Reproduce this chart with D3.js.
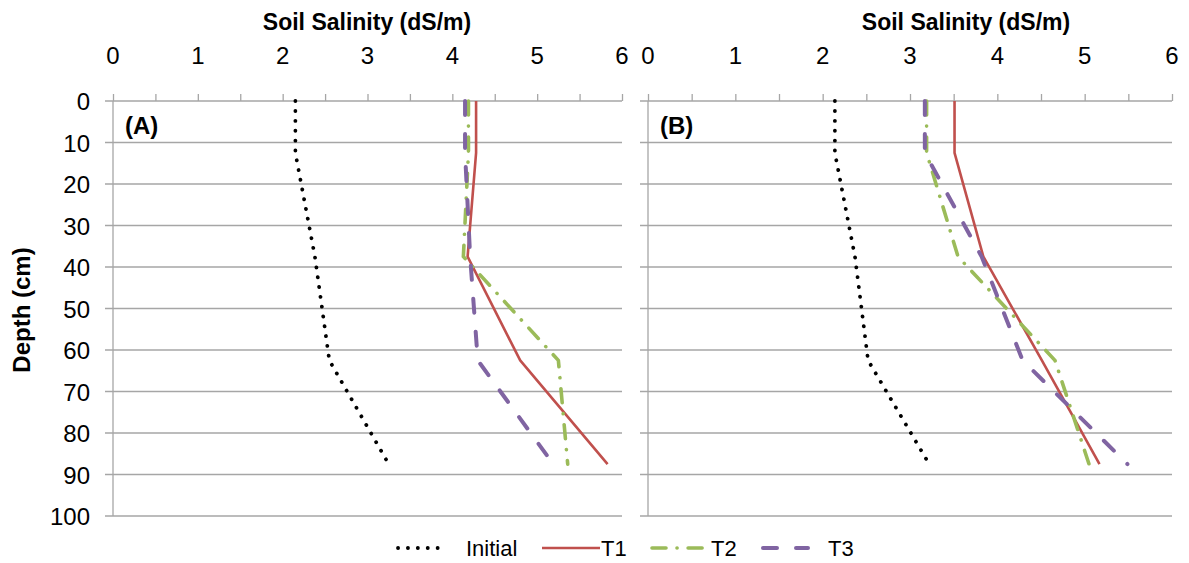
<!DOCTYPE html>
<html>
<head>
<meta charset="utf-8">
<script src="https://cdn.jsdelivr.net/npm/d3@7"></script>
<style>
  body { margin: 0; background: #fff; }
  svg { display: block; }
  text { font-family: "Liberation Sans Narrow", "Arial Narrow", "Liberation Sans", sans-serif; fill: #000; }
</style>
</head>
<body>
<svg id="chart" width="1189" height="563"></svg>
<script>
// depth of each sample (cm)
var depths = [0, 12.5, 37.5, 62.5, 87.5];

// panel A salinity (dS/m)
var initialA = [2.15, 2.15, 2.38, 2.55, 3.25];
var t1A = [4.28, 4.28, 4.18, 4.80, 5.83];
var t2A = [4.19, 4.19, 4.13, 5.25, 5.36];
var t3A = [4.15, 4.15, 4.21, 4.30, 5.19];

// panel B salinity (dS/m)
var initialB = [2.14, 2.14, 2.37, 2.52, 3.22];
var t1B = [3.51, 3.51, 3.84, 4.51, 5.17];
var t2B = [3.19, 3.19, 3.55, 4.66, 5.05];
var t3B = [3.17, 3.17, 3.82, 4.29, 5.49];

var seriesNames = ["Initial", "T1", "T2", "T3"];
var xTicks = [0, 1, 2, 3, 4, 5, 6];
var yTicks = [0, 10, 20, 30, 40, 50, 60, 70, 80, 90, 100];

var styles = {
  "Initial": {color: "#000", width: 3.8, dash: "0.1,9.8"},
  "T1": {color: "#c0504d", width: 2.6, dash: null},
  "T2": {color: "#9bbb59", width: 3.6, dash: "14,11,0.1,11"},
  "T3": {color: "#8064a2", width: 4, dash: "14,19"}
};

var svg = d3.select("#chart");
var gridColor = "#a6a6a6";

var yScale = d3.scaleLinear().domain([0, 100]).range([101, 516]);

function drawPanel(opts) {
  var x = d3.scaleLinear().domain([0, 6]).range([opts.x0, opts.x1]);
  var g = svg.append("g");

  // horizontal gridlines + left ticks
  g.selectAll(".grid")
    .data(yTicks.slice(1))
    .enter().append("line")
    .attr("x1", opts.x0 - 8).attr("x2", opts.x1)
    .attr("y1", function(d) { return yScale(d); })
    .attr("y2", function(d) { return yScale(d); })
    .attr("stroke", gridColor).attr("stroke-width", 1.3);

  // top axis with half-unit ticks
  var axisTop = d3.axisTop(x).tickValues(d3.range(0, 6.01, 0.5)).tickSize(7).tickFormat("");
  var ax = g.append("g").attr("transform", "translate(0," + yScale(0) + ")").call(axisTop);
  ax.select(".domain").attr("stroke", gridColor).attr("stroke-width", 1.3)
    .attr("d", "M" + (opts.x0 - 8) + ",0H" + opts.x1);
  ax.selectAll(".tick line").attr("stroke", gridColor).attr("stroke-width", 1.3);

  // top tick labels
  g.selectAll(".xlab")
    .data(xTicks)
    .enter().append("text")
    .attr("x", function(d) { return x(d); })
    .attr("y", 64)
    .attr("text-anchor", "middle")
    .style("font-size", "24px")
    .text(function(d) { return d; });

  // vertical axis
  g.append("line")
    .attr("x1", opts.x0).attr("x2", opts.x0)
    .attr("y1", yScale(0)).attr("y2", yScale(100))
    .attr("stroke", gridColor).attr("stroke-width", 1.3);

  if (opts.yLabels) {
    g.selectAll(".ylab")
      .data(yTicks)
      .enter().append("text")
      .attr("x", 90)
      .attr("y", function(d) { return yScale(d) + 9; })
      .attr("text-anchor", "end")
      .style("font-size", "24px")
      .text(function(d) { return d; });
  }

  // axis title
  g.append("text")
    .attr("x", opts.titleX).attr("y", 30)
    .attr("text-anchor", "middle")
    .style("font-size", "23px").style("font-weight", "bold")
    .text("Soil Salinity (dS/m)");

  // panel letter
  g.append("text")
    .attr("x", opts.x0 + 12).attr("y", 134)
    .style("font-size", "24px").style("font-weight", "bold")
    .text(opts.letter);

  var line = d3.line()
    .x(function(d) { return x(d[0]); })
    .y(function(d) { return yScale(d[1]); });

  opts.series.forEach(function(vals, i) {
    var st = styles[seriesNames[i]];
    var pts = vals.map(function(v, j) { return [v, depths[j]]; });
    g.append("path")
      .datum(pts)
      .attr("d", line)
      .attr("fill", "none")
      .attr("stroke", st.color)
      .attr("stroke-width", st.width)
      .attr("stroke-linecap", st.dash ? "round" : "butt")
      .attr("stroke-linejoin", "round")
      .attr("stroke-dasharray", st.dash);
  });
}

drawPanel({x0: 113, x1: 622, titleX: 367, letter: "(A)", yLabels: true,
  series: [initialA, t1A, t2A, t3A]});
drawPanel({x0: 648, x1: 1172, titleX: 966, letter: "(B)", yLabels: false,
  series: [initialB, t1B, t2B, t3B]});

// y axis title
svg.append("text")
  .attr("transform", "translate(30,310) rotate(-90)")
  .attr("text-anchor", "middle")
  .style("font-size", "24px").style("font-weight", "bold")
  .text("Depth (cm)");

// legend
var legendItems = [
  {name: "Initial", lx0: 398, lx1: 440, tx: 466},
  {name: "T1", lx0: 542, lx1: 600, tx: 601},
  {name: "T2", lx0: 652, lx1: 710, tx: 711},
  {name: "T3", lx0: 763, lx1: 808, tx: 828}
];
var leg = svg.append("g");
legendItems.forEach(function(it) {
  var st = styles[it.name];
  leg.append("line")
    .attr("x1", it.lx0).attr("x2", it.lx1)
    .attr("y1", 548).attr("y2", 548)
    .attr("stroke", st.color)
    .attr("stroke-width", st.width)
    .attr("stroke-linecap", st.dash ? "round" : "butt")
    .attr("stroke-dasharray", st.dash);
  leg.append("text")
    .attr("x", it.tx).attr("y", 556)
    .style("font-size", "22px")
    .text(it.name);
});
</script>
</body>
</html>
